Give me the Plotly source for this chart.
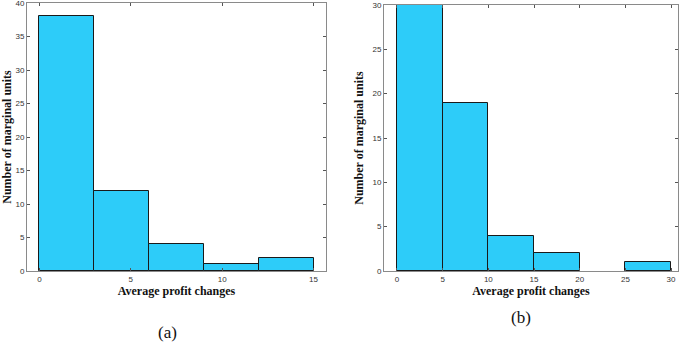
import plotly.graph_objects as go

# Panel (a)
bin_edges_a = [0, 3, 6, 9, 12, 15]
counts_a = [38, 12, 4, 1, 2]
xticks_a = [0, 5, 10, 15]
yticks_a = [0, 5, 10, 15, 20, 25, 30, 35, 40]

# Panel (b)
bin_edges_b = [0, 5, 10, 15, 20, 25, 30]
counts_b = [30, 19, 4, 2, 0, 1]
xticks_b = [0, 5, 10, 15, 20, 25, 30]
yticks_b = [0, 5, 10, 15, 20, 25, 30]

xlabel = "Average profit changes"
ylabel = "Number of marginal units"
panel_labels = ["(a)", "(b)"]

W, H = 685, 342
fill = "#2DCCF9"
edge = "#1a1a1a"

def centers(edges):
    return [(edges[i] + edges[i + 1]) / 2 for i in range(len(edges) - 1)]

def widths(edges):
    return [edges[i + 1] - edges[i] for i in range(len(edges) - 1)]

def edge_widths(counts):
    return [1 if c > 0 else 0 for c in counts]

fig = go.Figure()
fig.add_trace(go.Bar(x=centers(bin_edges_a), y=counts_a, width=widths(bin_edges_a),
                     marker=dict(color=fill, line=dict(color=edge, width=edge_widths(counts_a))),
                     xaxis="x", yaxis="y", showlegend=False))
fig.add_trace(go.Bar(x=centers(bin_edges_b), y=counts_b, width=widths(bin_edges_b),
                     marker=dict(color=fill, line=dict(color=edge, width=edge_widths(counts_b))),
                     xaxis="x2", yaxis="y2", showlegend=False))

tickfont = dict(family="Liberation Sans, Arial", size=8, color="#333")
titlefont = dict(family="Liberation Serif, Times New Roman", size=12, color="#111")

common = dict(showgrid=False, zeroline=False, showline=True, linecolor="#8a8a8a",
              linewidth=1, mirror="ticks", ticks="inside", ticklen=3,
              tickcolor="#555", tickfont=tickfont, automargin=False,
              ticklabeloverflow="allow")

bot = 1 - 271 / H
labfont = dict(family="Liberation Serif, Times New Roman", size=17, color="#111")
fig.update_layout(
    width=W, height=H, margin=dict(l=0, r=0, t=0, b=0, autoexpand=False),
    paper_bgcolor="white", plot_bgcolor="white", bargap=0,
    xaxis=dict(domain=[27 / W, 326 / W], range=[-0.68, 15.68], tickvals=xticks_a,
               anchor="y", title=dict(text="<b>" + xlabel + "</b>", font=titlefont, standoff=4),
               **common),
    yaxis=dict(domain=[bot, 1 - 3 / H], range=[0, 40], tickvals=yticks_a, anchor="x",
               title=dict(text="<b>" + ylabel + "</b>", font=titlefont, standoff=6),
               **common),
    xaxis2=dict(domain=[384 / W, 678 / W], range=[-1.42, 30.76], tickvals=xticks_b,
                anchor="y2", title=dict(text="<b>" + xlabel + "</b>", font=titlefont, standoff=4),
                **common),
    yaxis2=dict(domain=[bot, 1 - 5 / H], range=[0, 30], tickvals=yticks_b, anchor="x2",
                title=dict(text="<b>" + ylabel + "</b>", font=titlefont, standoff=6),
                **common),
    annotations=[
        dict(text=panel_labels[0], x=167 / W, y=1 - 332 / H, xref="paper", yref="paper",
             xanchor="center", yanchor="middle", showarrow=False, font=labfont),
        dict(text=panel_labels[1], x=521 / W, y=1 - 317 / H, xref="paper", yref="paper",
             xanchor="center", yanchor="middle", showarrow=False, font=labfont),
    ],
)

fig.write_html("out.html", config={"displayModeBar": False},
               post_script="document.body.style.margin='0';document.body.style.padding='0';document.body.style.overflow='hidden';")
